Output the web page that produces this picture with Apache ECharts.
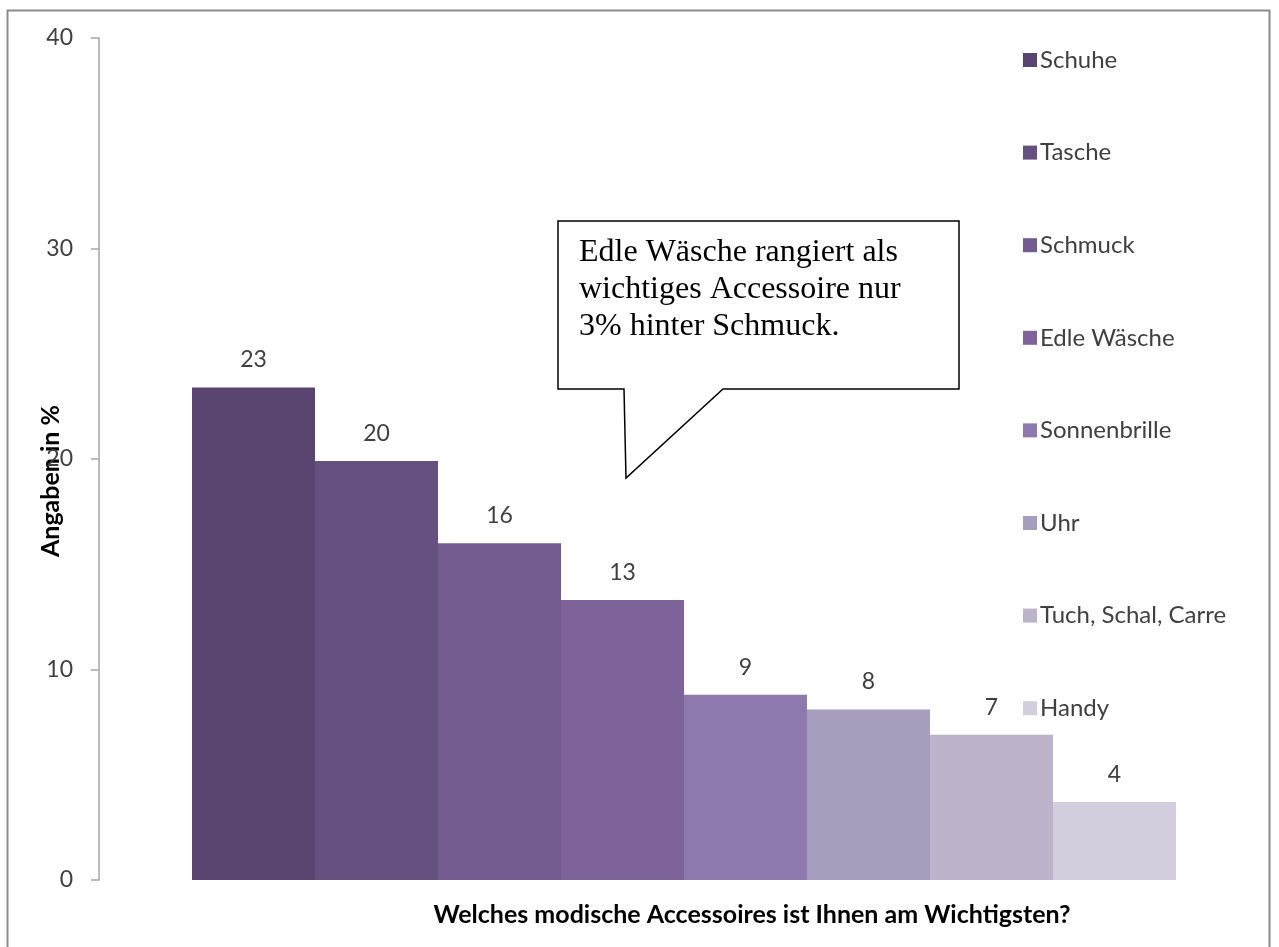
<!DOCTYPE html>
<html>
<head>
<meta charset="utf-8">
<script src="https://cdn.jsdelivr.net/npm/echarts@6/dist/echarts.min.js"></script>
<style>
html,body{margin:0;padding:0;background:#fff;}
#chart{width:1279px;height:947px;}
</style>
</head>
<body>
<div id="chart"></div>
<script>
var categories = ['Schuhe', 'Tasche', 'Schmuck', 'Edle Wäsche', 'Sonnenbrille', 'Uhr', 'Tuch, Schal, Carre', 'Handy'];
var values = [23.4, 19.9, 16.0, 13.3, 8.8, 8.1, 6.9, 3.7];
var colors = ['#5a4470', '#66507f', '#735b8f', '#7e629a', '#8d79ad', '#a79ebd', '#bdb3cb', '#d3cddd'];
var yTicks = [0, 10, 20, 30, 40];
var yTitle = 'Angaben in %';
var xTitle = 'Welches modische Accessoires ist Ihnen am Wichtigsten?';
var note = ['Edle Wäsche rangiert als', 'wichtiges Accessoire nur', '3% hinter Schmuck.'];

var chart = echarts.init(document.getElementById('chart'), null, {renderer: 'canvas'});

var series = categories.map(function (name, i) {
  return {
    name: name,
    type: 'bar',
    data: [values[i]],
    barWidth: 123,
    barGap: '0%',
    itemStyle: {color: colors[i]},
    label: {
      show: true,
      position: 'top',
      distance: 16,
      color: '#404040',
      fontFamily: 'Lato',
      fontSize: 23,
      formatter: function (p) { return Math.round(p.value); }
    }
  };
});

chart.setOption({
  animation: false,
  backgroundColor: '#ffffff',
  grid: {left: 99, right: 10, top: 38, bottom: 947 - 880},
  legend: {
    orient: 'vertical',
    left: 1018,
    top: 42,
    itemWidth: 14,
    itemHeight: 14,
    itemGap: 66.6,
    icon: 'rect',
    textStyle: {color: '#404040', fontFamily: 'Lato', fontSize: 24, lineHeight: 26, padding: [0, 0, 0, -2]},
    data: categories
  },
  xAxis: {
    type: 'category',
    data: [''],
    axisLine: {show: false},
    axisTick: {show: false},
    axisLabel: {show: false},
    name: xTitle,
    nameLocation: 'middle',
    nameGap: 22,
    nameMoveOverlap: false,
    nameTextStyle: {color: '#000', fontFamily: 'Lato', fontWeight: 'bold', fontSize: 25, padding: [0, 0, 0, 136]}
  },
  yAxis: {
    type: 'value',
    min: yTicks[0],
    max: yTicks[yTicks.length - 1],
    interval: 10,
    axisLine: {show: true, lineStyle: {color: '#a6a6a6', width: 1.5}},
    axisTick: {show: true, length: 8, lineStyle: {color: '#a6a6a6', width: 1.5}},
    splitLine: {show: false},
    axisLabel: {color: '#404040', fontFamily: 'Lato', fontSize: 23, margin: 26},
    name: yTitle,
    nameLocation: 'middle',
    nameGap: 36,
    nameMoveOverlap: false,
    nameTextStyle: {color: '#000', fontFamily: 'Lato', fontWeight: 'bold', fontSize: 25, padding: [0, 0, 0, -44]}
  },
  series: series,
  graphic: [
    {
      type: 'rect',
      shape: {x: 7.5, y: 10.5, width: 1262, height: 960},
      style: {fill: 'none', stroke: '#8c8c8c', lineWidth: 2},
      silent: true
    },
    {
      type: 'polygon',
      shape: {points: [[558, 221], [959, 221], [959, 389], [723, 389], [626, 478], [624, 389], [558, 389]]},
      style: {fill: '#ffffff', stroke: '#000000', lineWidth: 1.5},
      z: 10
    },
    {
      type: 'text',
      left: 579,
      top: 234,
      z: 11,
      style: {
        text: note.join('\n'),
        fill: '#000',
        font: '32px "Liberation Serif", "Times New Roman", serif',
        lineHeight: 37
      }
    }
  ]
});
</script>
</body>
</html>
